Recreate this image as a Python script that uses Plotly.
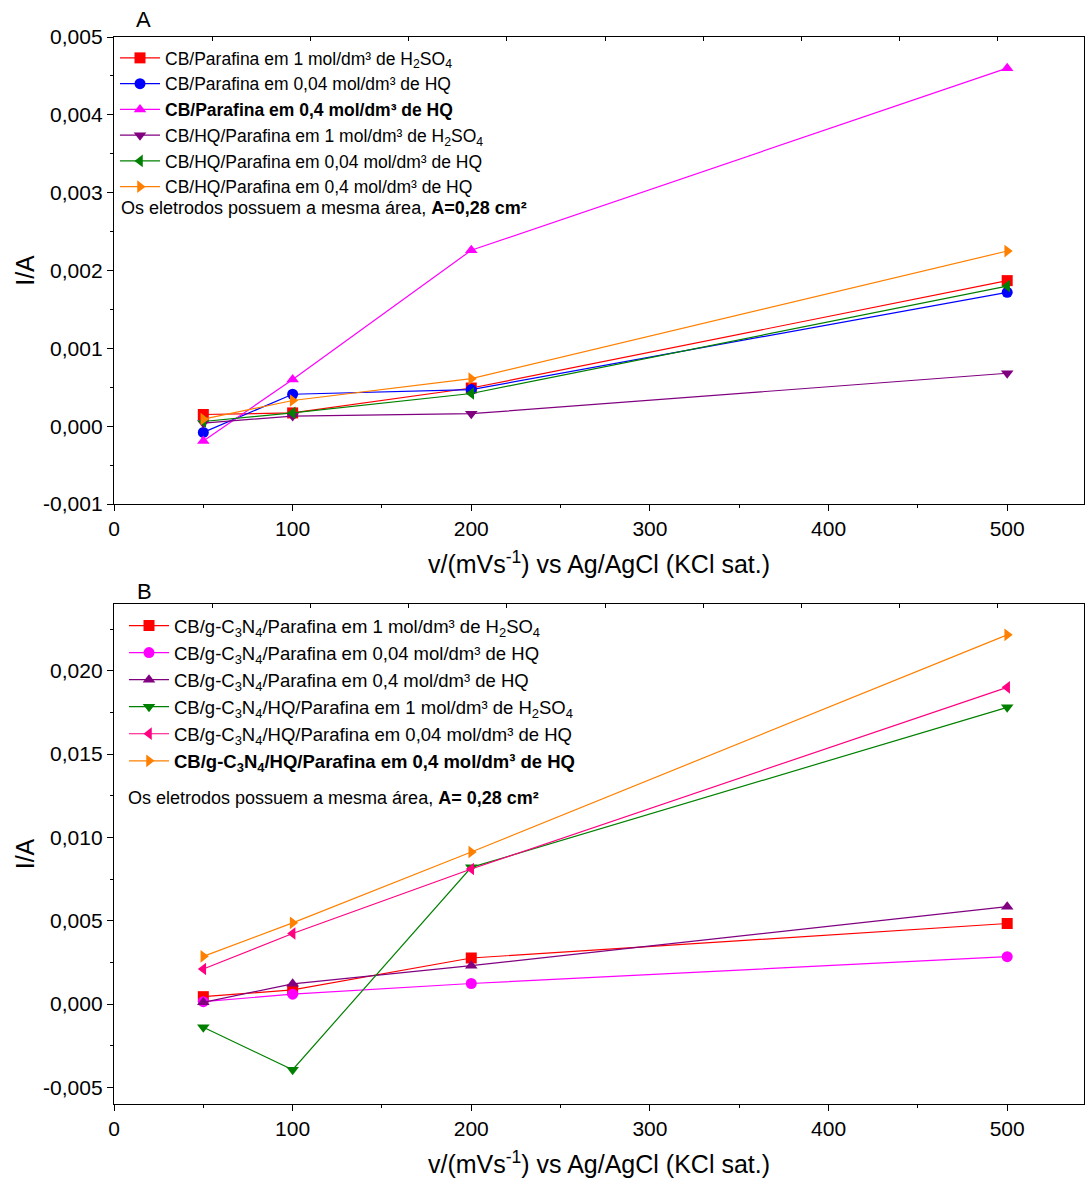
import plotly.graph_objects as go

# ---------------- data ----------------
scan_rates = [50, 100, 200, 500]

names_a = [
    "CB/Parafina em 1 mol/dm³ de H<sub>2</sub>SO<sub>4</sub>",
    "CB/Parafina em 0,04 mol/dm³ de HQ",
    "<b>CB/Parafina em 0,4 mol/dm³ de HQ</b>",
    "CB/HQ/Parafina em 1 mol/dm³ de H<sub>2</sub>SO<sub>4</sub>",
    "CB/HQ/Parafina em 0,04 mol/dm³ de HQ",
    "CB/HQ/Parafina em 0,4 mol/dm³ de HQ",
]
a_cb_h2so4 = [0.00015, 0.00017, 0.00049, 0.00187]
a_cb_hq004 = [-0.00008, 0.00041, 0.00047, 0.00172]
a_cb_hq04 = [-0.00019, 0.00060, 0.00226, 0.00460]
a_cbhq_h2so4 = [0.00004, 0.00013, 0.00016, 0.00068]
a_cbhq_hq004 = [0.00006, 0.00017, 0.00042, 0.00180]
a_cbhq_hq04 = [0.00009, 0.00033, 0.00061, 0.00225]
series_a = [a_cb_h2so4, a_cb_hq004, a_cb_hq04, a_cbhq_h2so4, a_cbhq_hq004, a_cbhq_hq04]

names_b = [
    "CB/g-C<sub>3</sub>N<sub>4</sub>/Parafina em 1 mol/dm³ de H<sub>2</sub>SO<sub>4</sub>",
    "CB/g-C<sub>3</sub>N<sub>4</sub>/Parafina em 0,04 mol/dm³ de HQ",
    "CB/g-C<sub>3</sub>N<sub>4</sub>/Parafina em 0,4 mol/dm³ de HQ",
    "CB/g-C<sub>3</sub>N<sub>4</sub>/HQ/Parafina em 1 mol/dm³ de H<sub>2</sub>SO<sub>4</sub>",
    "CB/g-C<sub>3</sub>N<sub>4</sub>/HQ/Parafina em 0,04 mol/dm³ de HQ",
    "<b>CB/g-C<sub>3</sub>N<sub>4</sub>/HQ/Parafina em 0,4 mol/dm³ de HQ</b>",
]
b_gcn_h2so4 = [0.00044, 0.00085, 0.00276, 0.00483]
b_gcn_hq004 = [0.00014, 0.00059, 0.00123, 0.00284]
b_gcn_hq04 = [0.00010, 0.00121, 0.00230, 0.00584]
b_gcnhq_h2so4 = [-0.00140, -0.00394, 0.00820, 0.01780]
b_gcnhq_hq004 = [0.00210, 0.00423, 0.00810, 0.01900]
b_gcnhq_hq04 = [0.00286, 0.00487, 0.00912, 0.02215]
series_b = [b_gcn_h2so4, b_gcn_hq004, b_gcn_hq04, b_gcnhq_h2so4, b_gcnhq_hq004, b_gcnhq_hq04]

colors_a = ["#FF0000", "#0000FF", "#FF00FF", "#800080", "#008000", "#FF8000"]
colors_b = ["#FF0000", "#FF00FF", "#800080", "#008000", "#FF0080", "#FF8000"]
symbols_a = ["square", "circle", "triangle-up", "triangle-down", "triangle-left", "triangle-right"]
symbols_b = ["square", "circle", "triangle-up", "triangle-down", "triangle-left", "triangle-right"]

y_ticks_a = [-0.001, 0.0, 0.001, 0.002, 0.003, 0.004, 0.005]
y_ticks_b = [-0.005, 0.0, 0.005, 0.010, 0.015, 0.020]
x_ticks = [0, 100, 200, 300, 400, 500]

FONT = "Liberation Sans, Arial, sans-serif"
W, H = 1085, 1180

fig = go.Figure()
for name, ys, c, s in zip(names_a, series_a, colors_a, symbols_a):
    fig.add_trace(go.Scatter(x=scan_rates, y=ys, name=name, mode="lines+markers",
                             line=dict(color=c, width=1.2),
                             marker=dict(symbol=s, size=11, color=c),
                             xaxis="x", yaxis="y", legend="legend"))
for name, ys, c, s in zip(names_b, series_b, colors_b, symbols_b):
    fig.add_trace(go.Scatter(x=scan_rates, y=ys, name=name, mode="lines+markers",
                             line=dict(color=c, width=1.2),
                             marker=dict(symbol=s, size=11, color=c),
                             xaxis="x2", yaxis="y2", legend="legend2"))


def px_x(p):
    return p / W


def px_y(p):
    return 1 - p / H


xdom = [px_x(114), px_x(1084)]
ydom_a = [px_y(504), px_y(37)]
ydom_b = [px_y(1104), px_y(604)]

tickfont = dict(family=FONT, size=21, color="black")
titlefont = dict(family=FONT, size=25, color="black")

common_x = dict(range=[0, 543], tickvals=x_ticks, ticktext=[str(v) for v in x_ticks],
                ticks="outside", ticklen=6, tickwidth=1, tickcolor="black",
                minor=dict(dtick=50, tick0=0, ticks="outside", ticklen=3, tickcolor="black"),
                showline=True, linecolor="black", linewidth=1.3, mirror=True,
                showgrid=False, zeroline=False, tickfont=tickfont, domain=xdom,
                automargin=False,
                title=dict(text="v/(mVs<sup>-1</sup>) vs Ag/AgCl (KCl sat.)", font=titlefont, standoff=16))


def ylab(v, nd=3):
    return f"{v:.{nd}f}".replace(".", ",")


common_y = dict(ticks="outside", ticklen=6, tickwidth=1, tickcolor="black",
                showline=True, linecolor="black", linewidth=1.3, mirror=True,
                showgrid=False, zeroline=False, tickfont=tickfont, automargin=False,
                title=dict(text="I/A", font=titlefont, standoff=1))

top_axis = dict(range=[0, 970 / 98.2], tick0=0, dtick=1, ticks="inside", ticklen=4,
                tickcolor="black", showticklabels=False, showline=False, showgrid=False,
                zeroline=False, side="top", domain=xdom, automargin=False)

legend_common = dict(xanchor="left", yanchor="top", bgcolor="rgba(255,255,255,0)", borderwidth=0,
                     tracegroupgap=0, itemwidth=40)

fig.update_layout(
    width=W, height=H,
    margin=dict(l=0, r=0, t=0, b=0, autoexpand=False),
    paper_bgcolor="white", plot_bgcolor="white",
    font=dict(family=FONT, color="black"),
    xaxis=dict(anchor="y", **common_x),
    yaxis=dict(anchor="x", domain=ydom_a, range=[-0.001, 0.005], tickvals=y_ticks_a,
               ticktext=[ylab(v) for v in y_ticks_a],
               minor=dict(dtick=0.0005, tick0=0, ticks="outside", ticklen=3, tickcolor="black"),
               **common_y),
    xaxis2=dict(anchor="y2", **common_x),
    yaxis2=dict(anchor="x2", domain=ydom_b, range=[-0.006, 0.024], tickvals=y_ticks_b,
                ticktext=[ylab(v) for v in y_ticks_b],
                minor=dict(dtick=0.0025, tick0=0, ticks="outside", ticklen=3, tickcolor="black"),
                **common_y),
    xaxis3=dict(overlaying="x", anchor="y", **top_axis),
    xaxis4=dict(overlaying="x2", anchor="y2", **top_axis),
    legend=dict(x=px_x(115), y=px_y(40), font=dict(family=FONT, size=17.5, color="black"),
                **legend_common),
    legend2=dict(x=px_x(124), y=px_y(607), font=dict(family=FONT, size=18.5, color="black"),
                 **legend_common),
    showlegend=True,
)

# invisible anchor traces for the top tick axes
fig.add_trace(go.Scatter(x=[0], y=[0.0], xaxis="x3", yaxis="y", mode="markers",
                         marker=dict(opacity=0), showlegend=False, hoverinfo="skip"))
fig.add_trace(go.Scatter(x=[0], y=[0.0], xaxis="x4", yaxis="y2", mode="markers",
                         marker=dict(opacity=0), showlegend=False, hoverinfo="skip"))

fig.add_annotation(x=px_x(119), y=px_y(208), xref="paper", yref="paper",
                   xanchor="left", yanchor="middle", showarrow=False,
                   text="Os eletrodos possuem a mesma área, <b>A=0,28 cm²</b>",
                   font=dict(family=FONT, size=18, color="black"))
fig.add_annotation(x=px_x(126), y=px_y(798), xref="paper", yref="paper",
                   xanchor="left", yanchor="middle", showarrow=False,
                   text="Os eletrodos possuem a mesma área, <b>A= 0,28 cm²</b>",
                   font=dict(family=FONT, size=18, color="black"))
fig.add_annotation(x=px_x(143), y=px_y(20), xref="paper", yref="paper",
                   xanchor="center", yanchor="middle", showarrow=False,
                   text="A", font=dict(family=FONT, size=22, color="black"))
fig.add_annotation(x=px_x(144), y=px_y(591), xref="paper", yref="paper",
                   xanchor="center", yanchor="middle", showarrow=False,
                   text="B", font=dict(family=FONT, size=22, color="black"))

fig.write_html("out.html")
